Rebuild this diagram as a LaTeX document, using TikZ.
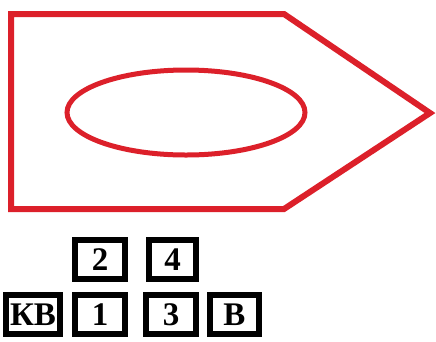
\documentclass[tikz,border=0pt]{standalone}
\usepackage{fontspec}
\setmainfont{Liberation Serif}
\usepackage{tikz}
\definecolor{hullred}{RGB}{220,32,42}

\begin{document}
\begin{tikzpicture}[x=1pt,y=-1pt,
  numbox/.style={rectangle,draw,line width=6pt,minimum height=39pt,inner sep=0pt,
    font=\fontsize{33}{34}\selectfont\bfseries}]
\useasboundingbox (0,0) rectangle (436,341);
\draw [hullred,line width=6pt] (11,14) -- (284,14) -- (430,113) -- (284,209) -- (11,209) -- cycle;
\draw [hullred,line width=5pt] (186,112.5) ellipse [x radius=119,y radius=42.5];
\node (n2) [numbox,minimum width=50pt] at (100,259.5) {2};
\node (n4) [numbox,minimum width=47pt] at (172.5,259.5) {4};
\node (kv) [numbox,minimum width=54pt] at (33,314.5) {КВ};
\node (n1) [numbox,minimum width=50pt] at (100,314.5) {1};
\node (n3) [numbox,minimum width=50pt] at (171,314.5) {3};
\node (v) [numbox,minimum width=49pt] at (234.5,314.5) {В};
\end{tikzpicture}
\end{document}
